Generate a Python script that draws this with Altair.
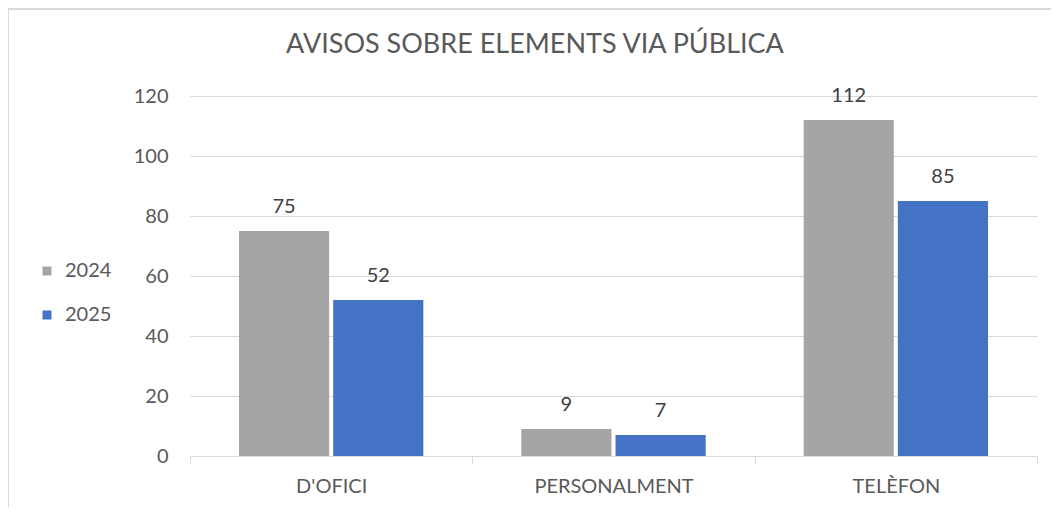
import altair as alt
import pandas as pd

categories = ["D'OFICI", "PERSONALMENT", "TELÈFON"]
years = ["2024", "2025"]
values_2024 = [75, 9, 112]
values_2025 = [52, 7, 85]
title_text = "AVISOS SOBRE ELEMENTS VIA PÚBLICA"

rows = []
for i, c in enumerate(categories):
    rows.append({"cat": c, "year": "2024", "value": values_2024[i]})
    rows.append({"cat": c, "year": "2025", "value": values_2025[i]})
df = pd.DataFrame(rows)

W, H = 847, 360
FONT = "Lato"
TXT = "#595959"

x_enc = alt.X("cat:N", sort=categories, title=None,
              scale=alt.Scale(paddingInner=0, paddingOuter=0),
              axis=alt.Axis(labelAngle=0, labelFontSize=20, labelFont=FONT, labelColor=TXT,
                            domainColor="#d9d9d9", tickColor="#d9d9d9", tickSize=8,
                            tickBand="extent", labelPadding=12, grid=False))
xo_enc = alt.XOffset("year:N", sort=years,
                     scale=alt.Scale(paddingInner=0.043, paddingOuter=0.52))
y_enc = alt.Y("value:Q", title=None,
              scale=alt.Scale(domain=[0, 120], nice=False),
              axis=alt.Axis(values=[0, 20, 40, 60, 80, 100, 120], domain=False, ticks=False,
                            labelFontSize=20, labelFont=FONT, labelColor=TXT, labelPadding=22,
                            gridColor="#d9d9d9", gridWidth=1))
color_enc = alt.Color("year:N", sort=years,
                      scale=alt.Scale(domain=years, range=["#a5a5a5", "#4472c4"]),
                      legend=alt.Legend(title=None, orient="none", legendX=-153, legendY=165,
                                        symbolType="square", symbolSize=81, symbolStrokeWidth=0,
                                        labelFontSize=20, labelFont=FONT, labelColor=TXT,
                                        labelOffset=8, rowPadding=24))

base = alt.Chart(df)

bars = base.mark_bar().encode(x=x_enc, xOffset=xo_enc, y=y_enc, color=color_enc)
labels = base.mark_text(baseline="bottom", dy=-14, fontSize=20, font=FONT, color="#404040").encode(
    x=alt.X("cat:N", sort=categories), xOffset=alt.XOffset("year:N", sort=years),
    y="value:Q", text="value:Q")

frame = alt.Chart(pd.DataFrame({"a": [0]})).mark_rect(fill=None, stroke="#d9d9d9", strokeWidth=2).encode(
    x=alt.value(-182), x2=alt.value(W + 40), y=alt.value(-87), y2=alt.value(H + 100))

title = alt.Chart(pd.DataFrame({"t": [title_text]})).mark_text(
    fontSize=27, font=FONT, color=TXT, baseline="middle", align="center").encode(
    x=alt.value(345), y=alt.value(-51), text="t:N")

chart = alt.layer(frame, bars, labels, title).properties(
    width=W, height=H,
    padding={"left": 182, "top": 88, "right": 14, "bottom": 51},
    autosize=alt.AutoSizeParams(type="none"),
).configure_view(stroke=None)

chart.save("out.html", embed_options={"renderer": "svg", "actions": False})
